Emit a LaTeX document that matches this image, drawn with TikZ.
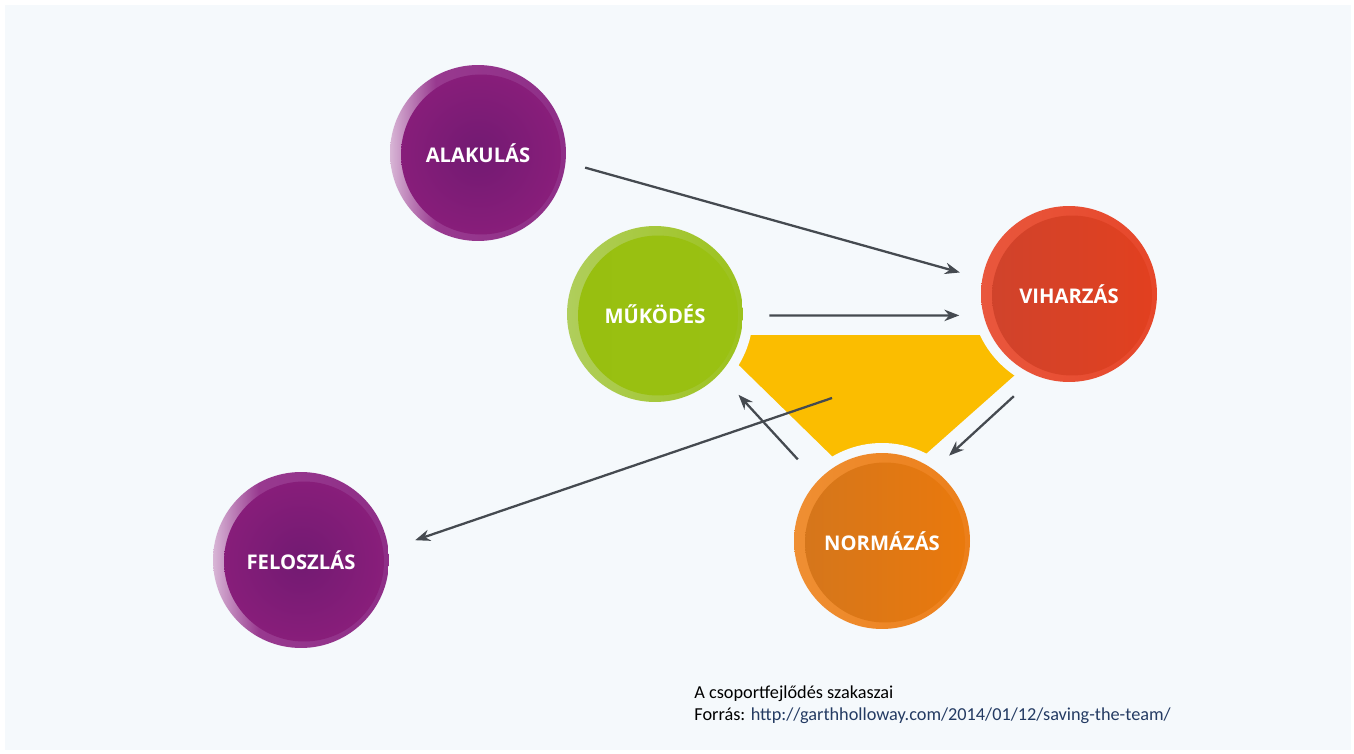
\documentclass[tikz,border=0pt]{standalone}
\usepackage{fontspec}
\setmainfont{Carlito}
\newfontfamily\phasefont{Open Sans}
\usetikzlibrary{arrows.meta,backgrounds}

\definecolor{bgcol}{HTML}{F5F9FC}
\definecolor{arrowcol}{HTML}{454A50}
\definecolor{yellowcol}{HTML}{FBBD00}
\definecolor{urlcol}{HTML}{243B63}
\definecolor{purpleL}{HTML}{D8B6D6}
\definecolor{purpleM}{HTML}{98398F}
\definecolor{purpleR}{HTML}{8E2E87}
\definecolor{purpleC}{HTML}{721A72}
\definecolor{purpleE}{HTML}{8A1E7B}
\definecolor{greenL}{HTML}{B0CE5C}
\definecolor{greenR}{HTML}{9CC21C}
\definecolor{greenI}{HTML}{98BF10}
\definecolor{greenJ}{HTML}{9AC112}
\definecolor{redL}{HTML}{E9573D}
\definecolor{redR}{HTML}{E6472A}
\definecolor{redI}{HTML}{CF432C}
\definecolor{redJ}{HTML}{E2401F}
\definecolor{orangeL}{HTML}{EF8F33}
\definecolor{orangeR}{HTML}{EC7F1A}
\definecolor{orangeI}{HTML}{D4761C}
\definecolor{orangeJ}{HTML}{EA790C}

\pgfdeclarehorizontalshading{purplering}{100bp}{color(0bp)=(purpleL); color(25bp)=(purpleL); color(38bp)=(purpleM); color(75bp)=(purpleR); color(100bp)=(purpleR)}

\tikzset{
	phase/.style 2 args={circle,minimum size=3.52cm,inner sep=0pt,text=white,
		font=\phasefont\bfseries\fontsize{11.5}{13}\selectfont,#1,
		path picture={\shade[#2] ([shift={(0.06cm,-0.03cm)}]path picture bounding box.center) circle (1.6cm);}},
	flow/.style={arrowcol,line width=1.3pt,->,>={Stealth[length=8.5pt,width=6.5pt]}},
	caption/.style={anchor=base west,inner sep=0pt,font=\fontsize{10.4}{12}\selectfont},
}

\begin{document}
\begin{tikzpicture}[x=0.02cm,y=-0.02cm]
	\useasboundingbox (0,0) rectangle (1354,753);
	
	%PHASES
	\node[phase={shading=purplering}{inner color=purpleC,outer color=purpleE}] (alakulas) at (478,153) {ALAKULÁS};
	\node[phase={left color=greenL,right color=greenR}{left color=greenI,right color=greenJ}] (mukodes) at (655,314) {MŰKÖDÉS};
	\node[phase={left color=redL,right color=redR}{left color=redI,right color=redJ}] (viharzas) at (1069,294) {VIHARZÁS};
	\node[phase={left color=orangeL,right color=orangeR}{left color=orangeI,right color=orangeJ}] (normazas) at (882,541) {NORMÁZÁS};
	\node[phase={shading=purplering}{inner color=purpleC,outer color=purpleE}] (feloszlas) at (301,560) {FELOSZLÁS};
	
	%YELLOW AREA
	\begin{scope}[on background layer]
	\fill[bgcol] (5,5) rectangle (1351,750);
	\fill[yellowcol] (708,335) -- (1060,335) -- (875.5,498.6) -- cycle;
	\foreach \n in {mukodes,viharzas,normazas}	%gaps round the circles
	\fill[bgcol] (\n.center) circle (98);
	\end{scope}
	\coordinate (yellowmid) at (832,398);
	
	%ARROWS
	\draw[flow,shorten <=0.4cm,shorten >=0.46cm] (alakulas.-6) -- (viharzas.170);
	\draw[flow,shorten <=0.52cm,shorten >=0.48cm] (mukodes.-1) -- (viharzas.194);
	\draw[flow,shorten <=0.6cm,shorten >=0.41cm] (viharzas.248) -- (normazas.54);
	\draw[flow,shorten <=0.58cm,shorten >=0.56cm] (normazas.137) -- (mukodes.-43);
	\draw[flow,shorten >=0.56cm] (yellowmid) -- (feloszlas.7);
	
	%CAPTION
	\node[caption] (title) at (694,698) {A csoportfejlődés szakaszai};
	\node[caption] (source) at ([yshift=-0.44cm]title.base west) {Forrás: \textcolor{urlcol}{http://garthholloway.com/2014/01/12/saving-the-team/}};
\end{tikzpicture}
\end{document}
